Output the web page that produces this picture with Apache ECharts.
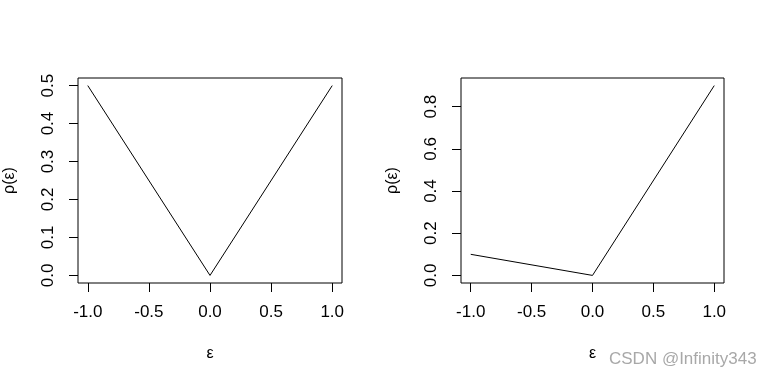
<!DOCTYPE html>
<html><head><meta charset="utf-8">
<script src="https://cdn.jsdelivr.net/npm/echarts@6/dist/echarts.min.js"></script>
<style>html,body{margin:0;padding:0;background:#fff}#c{width:765px;height:381px}</style>
</head><body><div id="c"></div>
<script>
const xValues = [-1, 0, 1];
const leftValues = [0.5, 0, 0.5];
const rightValues = [0.1, 0, 0.9];
const xTicks = [-1, -0.5, 0, 0.5, 1];
const leftYTicks = [0, 0.1, 0.2, 0.3, 0.4, 0.5];
const rightYTicks = [0, 0.2, 0.4, 0.6, 0.8];
const xName = 'ε';
const yName = 'ρ(ε)';
const watermark = 'CSDN @Infinity343';

const FONT = '"Liberation Sans", Arial, sans-serif';
const chart = echarts.init(document.getElementById('c'), null, {renderer: 'canvas'});

function xAxis(idx) {
  return {
    type: 'value', gridIndex: idx, min: -1.08, max: 1.08, position: 'bottom',
    name: xName, nameLocation: 'middle', nameGap: 63,
    nameTextStyle: {fontFamily: FONT, fontSize: 16, color: '#000'},
    axisLine: {show: false, onZero: false},
    splitLine: {show: false},
    axisTick: {show: true, length: 9, customValues: xTicks, lineStyle: {color: '#000'}},
    axisLabel: {customValues: xTicks, margin: 21, fontFamily: FONT, fontSize: 17, color: '#000',
      formatter: v => v.toFixed(1)}
  };
}
function yAxis(idx, min, max, ticks) {
  return {
    type: 'value', gridIndex: idx, min: min, max: max, position: 'left',
    name: yName, nameLocation: 'middle', nameGap: 60, nameRotate: 90,
    nameTextStyle: {fontFamily: FONT, fontSize: 16, color: '#000'},
    axisLine: {show: false, onZero: false},
    splitLine: {show: false},
    axisTick: {show: true, length: 9, customValues: ticks, lineStyle: {color: '#000'}},
    axisLabel: {customValues: ticks, rotate: 90, margin: 21, fontFamily: FONT, fontSize: 17, color: '#000',
      formatter: v => v.toFixed(1)}
  };
}

chart.setOption({
  animation: false,
  backgroundColor: '#fff',
  grid: [
    {left: 78, top: 78, width: 264, height: 205, show: true, borderColor: '#000', borderWidth: 1, backgroundColor: 'transparent'},
    {left: 461, top: 78, width: 263, height: 205, show: true, borderColor: '#000', borderWidth: 1, backgroundColor: 'transparent'}
  ],
  xAxis: [xAxis(0), xAxis(1)],
  yAxis: [yAxis(0, -0.02, 0.52, leftYTicks), yAxis(1, -0.036, 0.936, rightYTicks)],
  series: [
    {type: 'line', xAxisIndex: 0, yAxisIndex: 0, showSymbol: false, silent: true,
      lineStyle: {color: '#000', width: 1}, data: xValues.map((x, i) => [x, leftValues[i]])},
    {type: 'line', xAxisIndex: 1, yAxisIndex: 1, showSymbol: false, silent: true,
      lineStyle: {color: '#000', width: 1}, data: xValues.map((x, i) => [x, rightValues[i]])}
  ],
  graphic: [
    {type: 'text', left: 609, top: 351, silent: true,
      style: {text: watermark, fontFamily: FONT, fontSize: 17, fill: '#a8a8a8'}}
  ]
});
</script></body></html>
